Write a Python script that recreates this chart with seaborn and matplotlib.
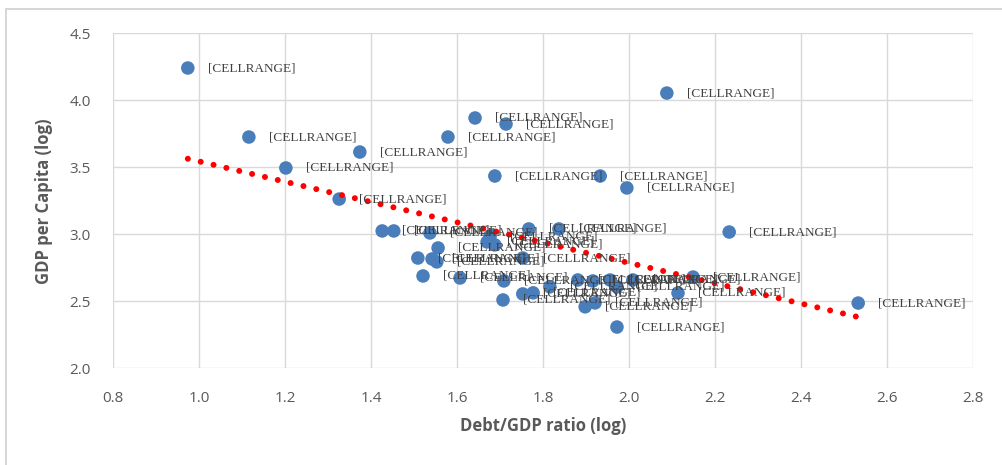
import numpy as np
import pandas as pd
import seaborn as sns
import matplotlib.pyplot as plt
from matplotlib.patches import Rectangle

# values
debt_gdp = [0.974, 2.088, 1.116, 1.374, 1.202, 1.642, 1.714, 1.579, 1.688, 1.933,
            1.995, 1.326, 2.233, 2.533, 1.972, 1.426, 1.453, 1.537, 1.556, 1.509,
            1.542, 1.553, 1.521, 1.607, 1.709, 1.707, 1.753, 1.777, 1.677, 1.688,
            1.767, 1.837, 1.753, 1.816, 1.881, 1.916, 1.956, 1.972, 2.009, 1.898,
            1.921, 2.114, 2.149, 1.670]
gdp_pc = [4.241, 4.054, 3.726, 3.614, 3.495, 3.868, 3.823, 3.726, 3.435, 3.435,
          3.346, 3.263, 3.017, 2.487, 2.308, 3.025, 3.025, 3.010, 2.898, 2.823,
          2.816, 2.794, 2.689, 2.674, 2.652, 2.510, 2.555, 2.563, 2.987, 2.921,
          3.040, 3.040, 2.823, 2.608, 2.659, 2.652, 2.659, 2.608, 2.659, 2.459,
          2.488, 2.562, 2.681, 2.943]
point_labels = ['[CELLRANGE]'] * len(debt_gdp)

x_ticks = [0.8, 1.0, 1.2, 1.4, 1.6, 1.8, 2.0, 2.2, 2.4, 2.6, 2.8]
y_ticks = [2.0, 2.5, 3.0, 3.5, 4.0, 4.5]

df = pd.DataFrame({'debt': debt_gdp, 'gdp': gdp_pc, 'label': point_labels})

sns.set_theme(style="whitegrid")
plt.rcParams['font.family'] = ['Open Sans', 'DejaVu Sans']

fig = plt.figure(figsize=(10.03, 4.65), dpi=100)
ax = fig.add_axes([113 / 1003, 1 - 368.3 / 465, 860 / 1003, 335 / 465])

# outer chart border
fig.patches.append(Rectangle((6 / 1003, -0.1), 1.2, 1 - 9 / 465 + 0.1,
                             transform=fig.transFigure, fill=False,
                             edgecolor='#d0d0d0', linewidth=1.2))

sns.scatterplot(data=df, x='debt', y='gdp', ax=ax, color='#4a7ebb',
                s=95, edgecolor='none', zorder=3)

# linear trendline, like excel
slope, icpt = np.polyfit(df['debt'], df['gdp'], 1)
xs = np.linspace(df['debt'].min(), df['debt'].max(), 50)
ax.plot(xs, slope * xs + icpt, color='#ff0000', linewidth=4.3,
        linestyle=(0, (0.01, 2.2)), dash_capstyle='round', zorder=4)

for _, r in df.iterrows():
    ax.annotate(r['label'], (r['debt'], r['gdp']), xytext=(14.4, 0),
                textcoords='offset points', va='center', ha='left',
                fontsize=9.5, color='#404040', family='Liberation Serif',
                zorder=5)

ax.set_xlim(0.8, 2.8)
ax.set_ylim(2.0, 4.5)
ax.set_xticks(x_ticks)
ax.set_yticks(y_ticks)
ax.set_xticklabels([f'{t:.1f}' for t in x_ticks])
ax.set_yticklabels([f'{t:.1f}' for t in y_ticks])
ax.tick_params(axis='both', labelsize=11, labelcolor='#595959', pad=10)
ax.grid(color='#d9d9d9', linewidth=1)
for s in ax.spines.values():
    s.set_visible(False)

ax.set_xlabel('Debt/GDP ratio (log)', fontsize=12, fontweight='bold',
              color='#595959', labelpad=8)
ax.set_ylabel('GDP per Capita (log)', fontsize=12, fontweight='bold',
              color='#595959', labelpad=12)

fig.savefig('out.png', dpi=100)
